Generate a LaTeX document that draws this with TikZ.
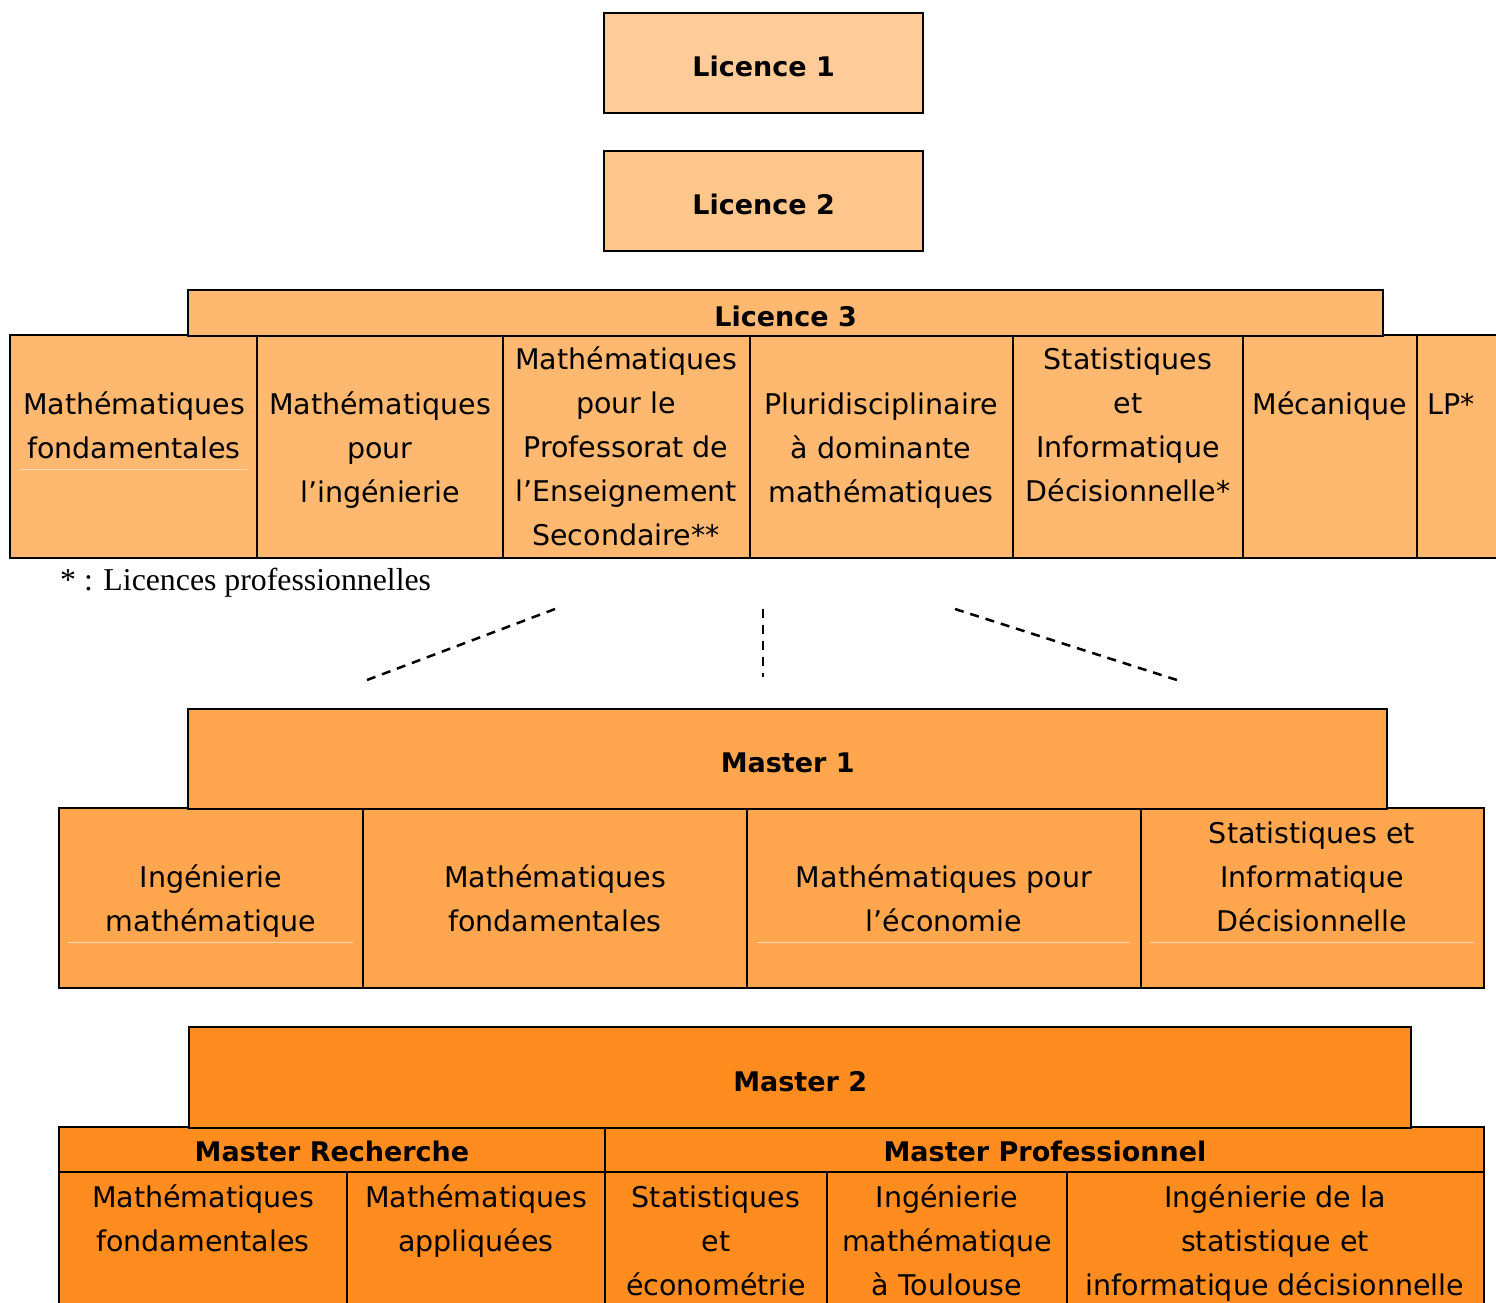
\documentclass[tikz,border=0pt]{standalone}
\usepackage{fontspec}
\setmainfont{DejaVu Sans}
\newfontfamily\notefont{Liberation Serif}
\usetikzlibrary{positioning}
\definecolor{lonecol}{HTML}{FFCC99}
\definecolor{ltwocol}{HTML}{FFC68C}
\definecolor{lthreecol}{HTML}{FFB870}
\definecolor{monecol}{HTML}{FFA64F}
\definecolor{mtwocol}{HTML}{FF8C1F}
\definecolor{faintcol}{HTML}{FFD9B3}
\tikzset{
  hdr/.style      = {draw, line width=2.4pt, rectangle, anchor=north west,
                     inner sep=0pt, text height=27pt, text depth=0pt,
                     font=\fontsize{27}{32}\selectfont\bfseries},
  rowbox/.style   = {draw, line width=2.4pt},
  divider/.style  = {line width=2.4pt},
  celltxt/.style  = {inner sep=0pt, anchor=base, font=\fontsize{28.5}{44}\selectfont},
  subhdr/.style   = {inner sep=0pt, font=\fontsize{27}{32}\selectfont\bfseries},
  faint/.style    = {draw=faintcol, line width=1pt},
  dashline/.style = {line width=2.5pt, dash pattern=on 9pt off 7pt},
}
\newcommand{\ctext}[1]{\begin{tabular}[t]{@{}c@{}}#1\end{tabular}}

\begin{document}
\begin{tikzpicture}[x=1pt, y=-1pt, node distance=35.6pt]
\useasboundingbox (0,0) rectangle (1496,1303);
\clip (0,0) rectangle (1496,1303);
% ---- licence 1 & 2 ----
\node[hdr, fill=lonecol, minimum width=319pt, minimum height=100pt] (lic1) at (603,12) {Licence 1};
\node[hdr, fill=ltwocol, minimum width=319pt, minimum height=100pt, below=of lic1] (lic2) {Licence 2};

% ---- licence 3 ----
\draw[rowbox, fill=lthreecol] (10,335) rectangle (1520,558);
\node[hdr, fill=lthreecol, minimum width=1195pt, minimum height=46pt] (lic3) at (187,289) {Licence 3};
\foreach \cx in {257,503,750,1013,1243,1417}
  \draw[divider] (\cx,335) -- (\cx,558);
\draw[faint] (20,469) -- (247,469);
\node[celltxt] (mfond) at (134,414) {\ctext{Mathématiques\\fondamentales}};
\node[celltxt] (ming) at (380,414) {\ctext{Mathématiques\\pour\\l’ingénierie}};
\node[celltxt] (mpes) at (626,369) {\ctext{Mathématiques\\pour le\\Professorat de\\l’Enseignement\\Secondaire**}};
\node[celltxt] (plur) at (881,414) {\ctext{Pluridisciplinaire\\à dominante\\mathématiques}};
\node[celltxt] (sid) at (1128,369) {\ctext{Statistiques\\et\\Informatique\\Décisionnelle*}};
\node[celltxt] (meca) at (1330,414) {Mécanique};
\node[celltxt, anchor=base west] (lp) at (1427,414) {LP*};
\node[inner sep=0pt, anchor=base west, font=\notefont\fontsize{31.8}{36}\selectfont] (note) at (60,590) {* : Licences professionnelles};

% ---- dashed links ----
\coordinate (dla) at (555,609);
\coordinate (dlb) at (367,680);
\coordinate (dma) at (763,609);
\coordinate (dmb) at (763,677);
\coordinate (dra) at (955,609);
\coordinate (drb) at (1180,681);
\draw[dashline] (dla) -- (dlb);
\draw[dashline] (dma) -- (dmb);
\draw[dashline] (dra) -- (drb);

% ---- master 1 ----
\draw[rowbox, fill=monecol] (59,808) rectangle (1484,988);
\node[hdr, fill=monecol, minimum width=1199pt, minimum height=100pt] (mas1) at (187,708) {Master 1};
\foreach \cx in {363,747,1141}
  \draw[divider] (\cx,808) -- (\cx,988);
\draw[faint] (68,942) -- (353,942);
\draw[faint] (757,942) -- (1130,942);
\draw[faint] (1150,942) -- (1474,942);
\node[celltxt] (ingm) at (211,887) {\ctext{Ingénierie\\mathématique}};
\node[celltxt] (mfond1) at (555,887) {\ctext{Mathématiques\\fondamentales}};
\node[celltxt] (meco) at (944,887) {\ctext{Mathématiques pour\\l’économie}};
\node[celltxt] (sid1) at (1312,843) {\ctext{Statistiques et\\Informatique\\Décisionnelle}};

% ---- master 2 ----
\draw[rowbox, fill=mtwocol] (59,1127) rectangle (1484,1330);
\draw[divider] (59,1172) -- (1484,1172);
\node[hdr, fill=mtwocol, minimum width=1222pt, minimum height=101pt] (mas2) at (188,1026) {Master 2};
\draw[divider] (605,1127) -- (605,1330);
\foreach \cx in {347,827,1067}
  \draw[divider] (\cx,1172) -- (\cx,1330);
\node[subhdr] (mrech) at (332,1151) {Master Recherche};
\node[subhdr] (mpro) at (1045,1151) {Master Professionnel};
\node[celltxt] (mfond2) at (203,1207) {\ctext{Mathématiques\\fondamentales}};
\node[celltxt] (mapp) at (476,1207) {\ctext{Mathématiques\\appliquées}};
\node[celltxt] (seco) at (716,1207) {\ctext{Statistiques\\et\\économétrie}};
\node[celltxt] (imt) at (947,1207) {\ctext{Ingénierie\\mathématique\\à Toulouse}};
\node[celltxt] (isid) at (1275,1207) {\ctext{Ingénierie de la\\statistique et\\informatique décisionnelle}};
\end{tikzpicture}
\end{document}
